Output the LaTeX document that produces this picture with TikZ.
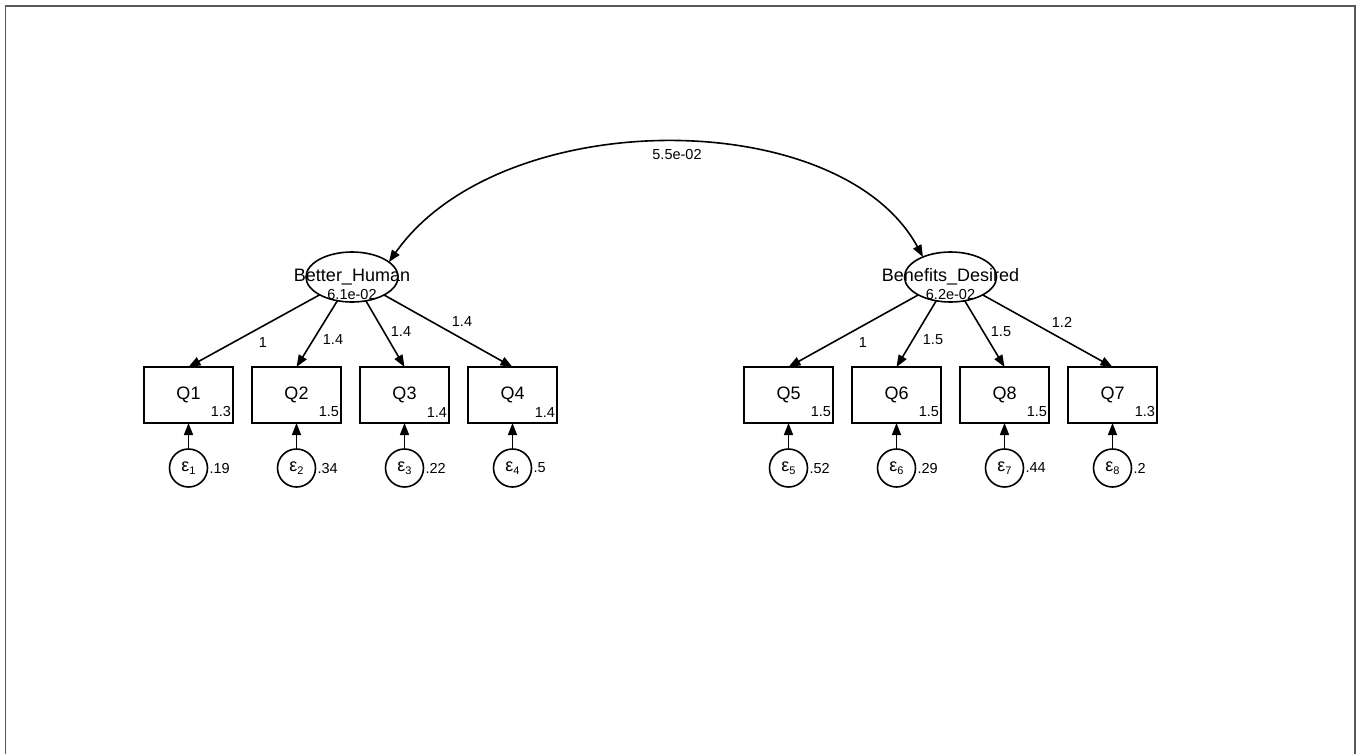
\documentclass[tikz,border=0pt]{standalone}
\usepackage{fontspec}
\setmainfont{Liberation Sans}
\usetikzlibrary{arrows.meta,shapes.geometric,calc}
\begin{document}
\begin{tikzpicture}[x=1pt,y=-1pt,
  every node/.style={inner sep=0pt, outer sep=0pt},
  obs/.style={draw, line width=1.6pt, rectangle, minimum width=89pt, minimum height=56pt, font=\fontsize{18}{20}\selectfont},
  lat/.style={draw, line width=1.6pt, ellipse, minimum width=92pt, minimum height=50pt},
  err/.style={draw, line width=1.6pt, circle, minimum size=38pt, font=\fontsize{18}{20}\selectfont},
  big/.style={font=\fontsize{18}{20}\selectfont},
  small/.style={font=\fontsize{14.5}{16}\selectfont},
  conn/.style={line width=1.6pt, -{Triangle[length=12pt,width=9pt]}},
  cov/.style={line width=1.6pt, {Triangle[length=12pt,width=9pt]}-{Triangle[length=12pt,width=9pt]}}
]
\newcommand{\eps}[1]{ε\raisebox{-2.5pt}{\fontsize{11}{11}\selectfont #1}}
\useasboundingbox (0,0) rectangle (1357,753);
\draw[black!65, line width=1.5pt] (5.5,6) rectangle (1355,770);

% latent variables
\node[lat] (bh) at (352,277) {};
\node[big] (bhn) at (352,277) {Better\_Human};
\node[small] (bhv) at (352,295) {6.1e-02};
\node[lat] (bd) at (950.5,277) {};
\node[big] (bdn) at (950.5,277) {Benefits\_Desired};
\node[small] (bdv) at (950.5,295) {6.2e-02};

% covariance
\draw[cov] (bh.22) .. controls (500,104) and (840,104) .. (bd.144);
\node[small] (cv) at (677,155) {5.5e-02};

% observed variables
\foreach \n/\x/\v/\e/\ev/\lat in {1/188.5/1.3/1/.19/bh, 2/296.5/1.5/2/.34/bh, 3/404.5/1.4/3/.22/bh, 4/512.5/1.4/4/.5/bh,
  5/788.5/1.5/5/.52/bd, 6/896.5/1.5/6/.29/bd, 8/1004.5/1.5/7/.44/bd, 7/1112.5/1.3/8/.2/bd}{
  \node[obs] (q\n) at (\x,395) {Q\n};
  \node[small, anchor=south east] (q\n v) at ($(q\n.south east)+(-2,-6)$) {\v};
  \node[err] (e\e) at (\x,468) {\eps{\e}};
  \node[small, anchor=west] (e\e v) at ($(e\e.east)+(2,0)$) {\ev};
  \draw[conn] (e\e) -- (q\n);
  \draw[conn] (\lat) -- (q\n.north);
}

% loading labels
\node[small] (l1) at (263,343) {1};
\node[small] (l2) at (333,340) {1.4};
\node[small] (l3) at (401,332) {1.4};
\node[small] (l4) at (462,322) {1.4};
\node[small] (l5) at (863,343) {1};
\node[small] (l6) at (933,340) {1.5};
\node[small] (l8) at (1001,332) {1.5};
\node[small] (l7) at (1062,322) {1.2};
\end{tikzpicture}
\end{document}
